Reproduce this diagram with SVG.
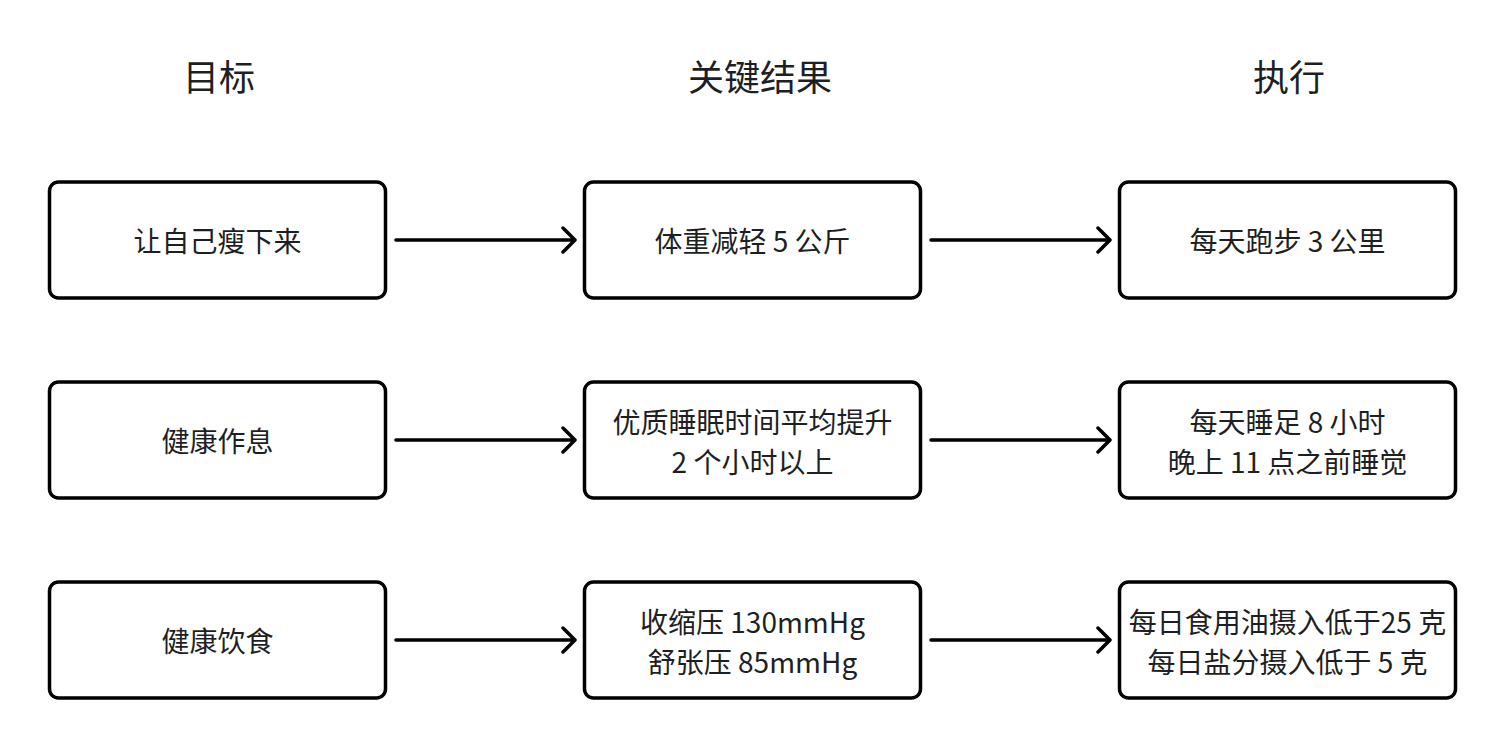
<svg xmlns="http://www.w3.org/2000/svg" width="1506" height="750" viewBox="0 0 1506 750">
<style>
.box{fill:#fff;stroke:#000;stroke-width:3.5}
.t{font-family:"Noto Sans CJK SC","Noto Sans",sans-serif;font-size:28px;fill:#1e1f24;text-anchor:middle;dominant-baseline:central}
.h{font-family:"Noto Sans CJK SC","Noto Sans",sans-serif;font-size:36px;fill:#1e1f24;text-anchor:middle;dominant-baseline:central}
.c{fill:none;stroke:#000;stroke-width:3.5;stroke-linecap:round;stroke-linejoin:round}
</style>
<rect width="1506" height="750" fill="#fff"/>
<g id="headers">
<text class="h" x="219" y="75">目标</text>
<text class="h" x="760" y="75">关键结果</text>
<text class="h" x="1289" y="75">执行</text>
</g>
<g id="connectors">
<path class="c" d="M396 240H574M563 228L575 240L563 252"/>
<path class="c" d="M931 240H1109M1098 228L1110 240L1098 252"/>
<path class="c" d="M396 440H574M563 428L575 440L563 452"/>
<path class="c" d="M931 440H1109M1098 428L1110 440L1098 452"/>
<path class="c" d="M396 640H574M563 628L575 640L563 652"/>
<path class="c" d="M931 640H1109M1098 628L1110 640L1098 652"/>
</g>
<g id="n1"><rect class="box" x="49.5" y="182" width="336" height="116" rx="9"/><text class="t" x="217.5" y="240">让自己瘦下来</text></g>
<g id="n2"><rect class="box" x="584.5" y="182" width="336" height="116" rx="9"/><text class="t" x="752.5" y="240">体重减轻 5 公斤</text></g>
<g id="n3"><rect class="box" x="1119.5" y="182" width="336" height="116" rx="9"/><text class="t" x="1287.5" y="240">每天跑步 3 公里</text></g>
<g id="n4"><rect class="box" x="49.5" y="382" width="336" height="116" rx="9"/><text class="t" x="217.5" y="440">健康作息</text></g>
<g id="n5"><rect class="box" x="584.5" y="382" width="336" height="116" rx="9"/><text class="t" x="752.5" y="421">优质睡眠时间平均提升</text><text class="t" x="752.5" y="461">2 个小时以上</text></g>
<g id="n6"><rect class="box" x="1119.5" y="382" width="336" height="116" rx="9"/><text class="t" x="1287.5" y="421">每天睡足 8 小时</text><text class="t" x="1287.5" y="461">晚上 11 点之前睡觉</text></g>
<g id="n7"><rect class="box" x="49.5" y="582" width="336" height="116" rx="9"/><text class="t" x="217.5" y="640">健康饮食</text></g>
<g id="n8"><rect class="box" x="584.5" y="582" width="336" height="116" rx="9"/><text class="t" x="752.5" y="621">收缩压 130mmHg</text><text class="t" x="752.5" y="661">舒张压 85mmHg</text></g>
<g id="n9"><rect class="box" x="1119.5" y="582" width="336" height="116" rx="9"/><text class="t" x="1287.5" y="621">每日食用油摄入低于25 克</text><text class="t" x="1287.5" y="661">每日盐分摄入低于 5 克</text></g>
</svg>
